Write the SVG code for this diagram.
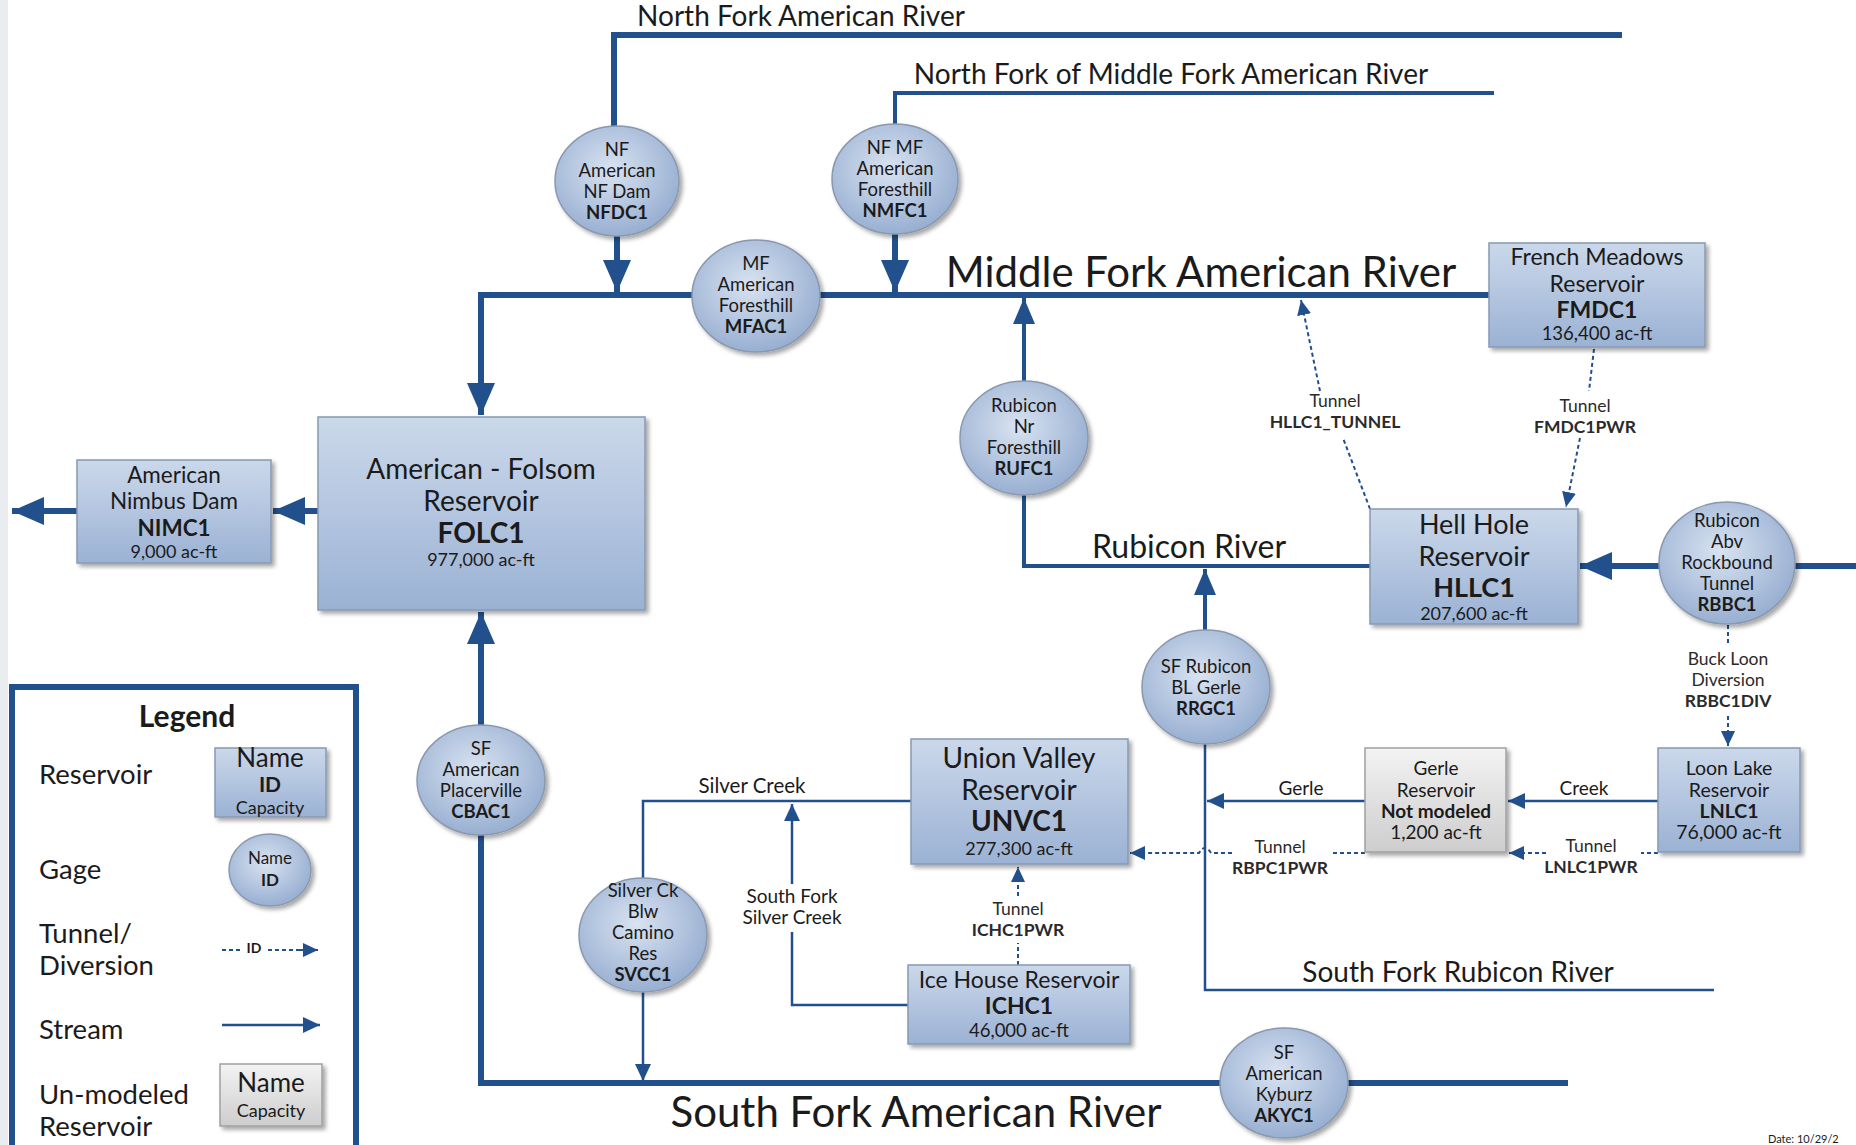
<svg xmlns="http://www.w3.org/2000/svg" width="1856" height="1145" viewBox="0 0 1856 1145">
<style>
text{font-family:Lato,"Open Sans","Liberation Sans",sans-serif;fill:#1b1b1b;text-anchor:middle}
.g{font-size:18.5px}
.b{font-weight:bold}
.lbl{font-size:17.5px;fill:#2a2a2a}
.thick{fill:none;stroke:#22508c;stroke-width:6}
.med{fill:none;stroke:#22508c;stroke-width:4}
.thin{fill:none;stroke:#22508c;stroke-width:2.5}
.dash{fill:none;stroke:#22508c;stroke-width:2;stroke-dasharray:4 3}
.box{fill:url(#bx);stroke:#8799b4;stroke-width:1.5;filter:url(#sh)}
.gbox{fill:url(#gr);stroke:#a0a0a0;stroke-width:1.5;filter:url(#sh)}
.gage{fill:url(#ga);stroke:#8a98ae;stroke-width:1.5;filter:url(#sh)}
.leg{text-anchor:start;font-size:27.5px}
</style>
<defs>
<linearGradient id="bx" x1="0" y1="0" x2="0" y2="1"><stop offset="0" stop-color="#cbd8ea"/><stop offset="1" stop-color="#9bb2d4"/></linearGradient>
<linearGradient id="gr" x1="0" y1="0" x2="0" y2="1"><stop offset="0" stop-color="#f3f3f3"/><stop offset="1" stop-color="#cdcdcd"/></linearGradient>
<radialGradient id="ga" cx="0.45" cy="0.4" r="0.65"><stop offset="0" stop-color="#d9e3f1"/><stop offset="1" stop-color="#93abcf"/></radialGradient>
<filter id="sh" x="-10%" y="-10%" width="125%" height="125%"><feDropShadow dx="3" dy="3" stdDeviation="2" flood-color="#000" flood-opacity="0.35"/></filter>
<marker id="aL" markerUnits="userSpaceOnUse" markerWidth="34" markerHeight="28" refX="32" refY="14" orient="auto"><path d="M0,0 L32,14 L0,28 Z" fill="#22508c"/></marker>
<marker id="aM" markerUnits="userSpaceOnUse" markerWidth="28" markerHeight="22" refX="26" refY="11" orient="auto"><path d="M0,0 L26,11 L0,22 Z" fill="#22508c"/></marker>
<marker id="aS" markerUnits="userSpaceOnUse" markerWidth="18" markerHeight="16" refX="17" refY="8" orient="auto"><path d="M0,0 L17,8 L0,16 Z" fill="#22508c"/></marker>
<marker id="aD" markerUnits="userSpaceOnUse" markerWidth="16" markerHeight="14" refX="15" refY="7" orient="auto"><path d="M0,0 L15,7 L0,14 Z" fill="#22508c"/></marker>
</defs>
<rect x="0" y="0" width="1856" height="1145" fill="#ffffff"/>
<rect x="0" y="0" width="8" height="1145" fill="#e9edf0"/>

<g id="connectors">
<path class="thick" d="M1622,35 H614 V126"/>
<path class="thick" d="M617,236 V292" marker-end="url(#aL)"/>
<path class="med" d="M1494,93 H895 V124"/>
<path class="thick" d="M895,234 V292" marker-end="url(#aL)"/>
<path class="thick" d="M1489,295 H481 V415" marker-end="url(#aL)"/>
<path class="thick" d="M318,511 H273" marker-end="url(#aL)"/>
<path class="thick" d="M77,511 H12" marker-end="url(#aL)"/>
<path class="thick" d="M1568,1083 H481 V612" marker-end="url(#aL)"/>
<path class="thick" d="M1856,566 H1580" marker-end="url(#aL)"/>
<path class="med" d="M1024,381 V298" marker-end="url(#aM)"/>
<path class="med" d="M1370,566 H1024 V495"/>
<path class="med" d="M1205,630 V569" marker-end="url(#aM)"/>
<path class="thin" d="M1714,990 H1205 V744"/>
<path class="thin" d="M1658,801 H1508" marker-end="url(#aS)"/>
<path class="thin" d="M1365,801 H1207" marker-end="url(#aS)"/>
<path class="thin" d="M911,801 H643 V878"/>
<path class="thin" d="M643,992 V1081" marker-end="url(#aS)"/>
<path class="thin" d="M908,1005 H792 V932"/>
<path class="thin" d="M792,884 V804" marker-end="url(#aS)"/>
<path class="dash" d="M1320,391 L1301,300" marker-end="url(#aD)"/>
<path class="dash" d="M1370,509 L1343,438"/>
<path class="dash" d="M1594,349 L1589,391"/>
<path class="dash" d="M1580,438 L1566,507" marker-end="url(#aD)"/>
<path class="dash" d="M1728,625 V645"/>
<path class="dash" d="M1728,716 V746" marker-end="url(#aD)"/>
<path class="dash" d="M1658,853 H1641"/>
<path class="dash" d="M1546,853 H1509" marker-end="url(#aD)"/>
<path class="dash" d="M1365,853 H1332"/>
<path class="dash" d="M1232,853 H1211 Q1205,843 1199,853 H1130" marker-end="url(#aD)"/>
<path class="dash" d="M1018,965 V943"/>
<path class="dash" d="M1018,896 V867" marker-end="url(#aD)"/>
</g>

<g id="river-labels">
<text x="801" y="26" style="font-size:28px">North Fork American River</text>
<text x="1171" y="84" style="font-size:28px">North Fork of Middle Fork American River</text>
<text x="1201" y="287" style="font-size:42px">Middle Fork American River</text>
<text x="1189" y="558" style="font-size:32px">Rubicon River</text>
<text x="1458" y="982" style="font-size:28px">South Fork Rubicon River</text>
<text x="916" y="1127" style="font-size:42px">South Fork American River</text>
<text x="752" y="793" style="font-size:20.5px">Silver Creek</text>
<text x="792" y="903" style="font-size:19px">South Fork</text>
<text x="792" y="924" style="font-size:19px">Silver Creek</text>
<text x="1301" y="795" style="font-size:19px">Gerle</text>
<text x="1584" y="795" style="font-size:19px">Creek</text>
<text class="lbl" x="1335" y="407">Tunnel</text>
<text class="lbl b" x="1335" y="428">HLLC1_TUNNEL</text>
<text class="lbl" x="1585" y="412">Tunnel</text>
<text class="lbl b" x="1585" y="433">FMDC1PWR</text>
<text class="lbl" x="1728" y="665">Buck Loon</text>
<text class="lbl" x="1728" y="686">Diversion</text>
<text class="lbl b" x="1728" y="707">RBBC1DIV</text>
<text class="lbl" x="1591" y="852">Tunnel</text>
<text class="lbl b" x="1591" y="873">LNLC1PWR</text>
<text class="lbl" x="1280" y="853">Tunnel</text>
<text class="lbl b" x="1280" y="874">RBPC1PWR</text>
<text class="lbl" x="1018" y="915">Tunnel</text>
<text class="lbl b" x="1018" y="936">ICHC1PWR</text>
<text x="1768" y="1143" style="font-size:11px;text-anchor:start">Date: 10/29/2</text>
</g>

<g id="NFDC1"><ellipse class="gage" cx="617" cy="181" rx="62" ry="55"/>
<text class="g" x="617" y="156">NF</text><text class="g" x="617" y="177">American</text><text class="g" x="617" y="198">NF Dam</text><text class="g b" x="617" y="219">NFDC1</text></g>
<g id="NMFC1"><ellipse class="gage" cx="895" cy="179" rx="63" ry="55"/>
<text class="g" x="895" y="154">NF MF</text><text class="g" x="895" y="175">American</text><text class="g" x="895" y="196">Foresthill</text><text class="g b" x="895" y="217">NMFC1</text></g>
<g id="MFAC1"><ellipse class="gage" cx="756" cy="296" rx="64" ry="56"/>
<text class="g" x="756" y="270">MF</text><text class="g" x="756" y="291">American</text><text class="g" x="756" y="312">Foresthill</text><text class="g b" x="756" y="333">MFAC1</text></g>
<g id="RUFC1"><ellipse class="gage" cx="1024" cy="438" rx="64" ry="57"/>
<text class="g" x="1024" y="412">Rubicon</text><text class="g" x="1024" y="433">Nr</text><text class="g" x="1024" y="454">Foresthill</text><text class="g b" x="1024" y="475">RUFC1</text></g>
<g id="RBBC1"><ellipse class="gage" cx="1727" cy="563" rx="68" ry="61"/>
<text class="g" x="1727" y="527">Rubicon</text><text class="g" x="1727" y="548">Abv</text><text class="g" x="1727" y="569">Rockbound</text><text class="g" x="1727" y="590">Tunnel</text><text class="g b" x="1727" y="611">RBBC1</text></g>
<g id="RRGC1"><ellipse class="gage" cx="1206" cy="687" rx="64" ry="57"/>
<text class="g" x="1206" y="673">SF Rubicon</text><text class="g" x="1206" y="694">BL Gerle</text><text class="g b" x="1206" y="715">RRGC1</text></g>
<g id="CBAC1"><ellipse class="gage" cx="481" cy="780" rx="64" ry="55"/>
<text class="g" x="481" y="755">SF</text><text class="g" x="481" y="776">American</text><text class="g" x="481" y="797">Placerville</text><text class="g b" x="481" y="818">CBAC1</text></g>
<g id="SVCC1"><ellipse class="gage" cx="643" cy="935" rx="64" ry="57"/>
<text class="g" x="643" y="897">Silver Ck</text><text class="g" x="643" y="918">Blw</text><text class="g" x="643" y="939">Camino</text><text class="g" x="643" y="960">Res</text><text class="g b" x="643" y="981">SVCC1</text></g>
<g id="AKYC1"><ellipse class="gage" cx="1284" cy="1083" rx="64" ry="55"/>
<text class="g" x="1284" y="1059">SF</text><text class="g" x="1284" y="1080">American</text><text class="g" x="1284" y="1101">Kyburz</text><text class="g b" x="1284" y="1122">AKYC1</text></g>

<g id="FOLC1"><rect class="box" x="318" y="417" width="327" height="193"/>
<text x="481" y="479" style="font-size:28px">American - Folsom</text><text x="481" y="511" style="font-size:28px">Reservoir</text><text class="b" x="481" y="543" style="font-size:28px">FOLC1</text><text x="481" y="566" style="font-size:18px">977,000 ac-ft</text></g>
<g id="NIMC1"><rect class="box" x="77" y="460" width="194" height="103"/>
<text x="174" y="483" style="font-size:22.5px">American</text><text x="174" y="509" style="font-size:22.5px">Nimbus Dam</text><text class="b" x="174" y="536" style="font-size:22.5px">NIMC1</text><text x="174" y="558" style="font-size:18px">9,000 ac-ft</text></g>
<g id="FMDC1"><rect class="box" x="1489" y="243" width="216" height="104"/>
<text x="1597" y="265" style="font-size:23px">French Meadows</text><text x="1597" y="292" style="font-size:23px">Reservoir</text><text class="b" x="1597" y="318" style="font-size:23px">FMDC1</text><text x="1597" y="340" style="font-size:18.5px">136,400 ac-ft</text></g>
<g id="HLLC1"><rect class="box" x="1370" y="509" width="208" height="115"/>
<text x="1474" y="534" style="font-size:27px">Hell Hole</text><text x="1474" y="566" style="font-size:27px">Reservoir</text><text class="b" x="1474" y="597" style="font-size:27px">HLLC1</text><text x="1474" y="620" style="font-size:18px">207,600 ac-ft</text></g>
<g id="UNVC1"><rect class="box" x="911" y="739" width="217" height="125"/>
<text x="1019" y="768" style="font-size:28px">Union Valley</text><text x="1019" y="800" style="font-size:28px">Reservoir</text><text class="b" x="1019" y="831" style="font-size:28px">UNVC1</text><text x="1019" y="855" style="font-size:18px">277,300 ac-ft</text></g>
<g id="ICHC1"><rect class="box" x="908" y="965" width="222" height="79"/>
<text x="1019" y="988" style="font-size:23px">Ice House Reservoir</text><text class="b" x="1019" y="1014" style="font-size:23px">ICHC1</text><text x="1019" y="1037" style="font-size:18.5px">46,000 ac-ft</text></g>
<g id="GERLE"><rect class="gbox" x="1365" y="748" width="141" height="104"/>
<text x="1436" y="775" style="font-size:19px">Gerle</text><text x="1436" y="797" style="font-size:19px">Reservoir</text><text class="b" x="1436" y="818" style="font-size:19px">Not modeled</text><text x="1436" y="839" style="font-size:19px">1,200 ac-ft</text></g>
<g id="LNLC1"><rect class="box" x="1658" y="748" width="142" height="104"/>
<text x="1729" y="775" style="font-size:19.5px">Loon Lake</text><text x="1729" y="797" style="font-size:19.5px">Reservoir</text><text class="b" x="1729" y="818" style="font-size:19.5px">LNLC1</text><text x="1729" y="839" style="font-size:19.5px">76,000 ac-ft</text></g>

<g id="legend">
<rect x="12" y="687" width="344" height="480" fill="#ffffff" stroke="#22508c" stroke-width="6"/>
<text class="b" x="187" y="727" style="font-size:30px">Legend</text>
<text class="leg" x="39" y="784">Reservoir</text>
<rect class="box" x="215" y="748" width="111" height="69"/>
<text x="270" y="767" style="font-size:26px">Name</text><text class="b" x="270" y="792" style="font-size:21px">ID</text><text x="270" y="814" style="font-size:18px">Capacity</text>
<text class="leg" x="39" y="879">Gage</text>
<ellipse class="gage" cx="270" cy="870" rx="41" ry="36"/>
<text x="270" y="864" style="font-size:17px">Name</text><text class="b" x="270" y="886" style="font-size:17px">ID</text>
<text class="leg" x="39" y="943">Tunnel/</text>
<text class="leg" x="39" y="975">Diversion</text>
<path class="dash" d="M222,950 H240 M268,950 H300" stroke-dasharray="3 3"/>
<path class="dash" d="M300,950 H318" marker-end="url(#aD)"/>
<text class="b" x="254" y="953" style="font-size:14px">ID</text>
<text class="leg" x="39" y="1039">Stream</text>
<path class="thin" d="M222,1025 H320" marker-end="url(#aS)"/>
<text class="leg" x="39" y="1104">Un-modeled</text>
<text class="leg" x="39" y="1136">Reservoir</text>
<rect class="gbox" x="220" y="1064" width="102" height="62"/>
<text x="271" y="1092" style="font-size:26px">Name</text><text x="271" y="1117" style="font-size:18px">Capacity</text>
</g>
</svg>
